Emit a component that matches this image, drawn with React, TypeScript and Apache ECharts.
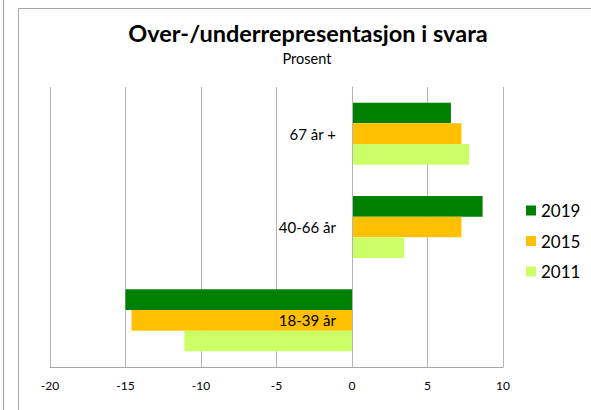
import React, { useEffect, useRef } from "react";
import * as echarts from "echarts";

const categories = ["18-39 år", "40-66 år", "67 år +"];
const seriesNames = ["2019", "2015", "2011"];
const values2019 = [-15.0, 8.65, 6.55];
const values2015 = [-14.6, 7.25, 7.25];
const values2011 = [-11.1, 3.45, 7.75];
const colors = ["#008000", "#FFC000", "#CCFF66"];
const xTicks = { min: -20, max: 10, interval: 5 };

const FONT = "Lato, 'Open Sans', sans-serif";

const GRID_LEFT = 50;
const GRID_RIGHT_X = 503;

export default function App() {
  const ref = useRef<HTMLDivElement>(null);
  useEffect(() => {
    document.body.style.margin = "0";
    const chart = echarts.init(ref.current!, null, { renderer: "svg" });
    const allValues = [values2019, values2015, values2011];
    // place the category axis where the value axis crosses zero
    const zeroX = GRID_LEFT + ((0 - xTicks.min) / (xTicks.max - xTicks.min)) * (GRID_RIGHT_X - GRID_LEFT);
    chart.setOption({
      animation: false,
      backgroundColor: "#ffffff",
      title: [
        {
          text: "Over-/underrepresentasjon i svara",
          left: 308,
          top: 21,
          padding: 0,
          textAlign: "center",
          textStyle: { fontFamily: FONT, fontSize: 23.5, lineHeight: 24, fontWeight: "bold", color: "#000" },
        },
        {
          text: "Prosent",
          left: 307,
          top: 51,
          padding: 0,
          textAlign: "center",
          textStyle: { fontFamily: FONT, fontSize: 14.5, lineHeight: 15, fontWeight: "normal", color: "#000" },
        },
      ],
      graphic: [
        { type: "rect", shape: { x: 18.5, y: 8.5, width: 700, height: 500 }, style: { fill: "none", stroke: "#a6a6a6", lineWidth: 1 }, silent: true },
        { type: "line", shape: { x1: 3.5, y1: 0, x2: 3.5, y2: 410 }, style: { stroke: "#a0a0a0", lineWidth: 1 }, silent: true },
      ],
      legend: {
        orient: "vertical",
        left: 526,
        top: 202,
        padding: 0,
        itemWidth: 10,
        itemHeight: 10,
        itemGap: 13.5,
        icon: "rect",
        data: seriesNames,
        textStyle: { fontFamily: FONT, fontSize: 17, color: "#000", lineHeight: 17 },
      },
      grid: { left: GRID_LEFT, right: 591 - GRID_RIGHT_X, top: 87, bottom: 43, containLabel: false, outerBoundsMode: "none" },
      xAxis: {
        type: "value",
        min: xTicks.min,
        max: xTicks.max,
        interval: xTicks.interval,
        axisLine: { show: true, lineStyle: { color: "#a6a6a6" } },
        axisTick: { show: false },
        axisLabel: { fontFamily: FONT, fontSize: 12, color: "#000", margin: 12 },
        splitLine: { show: true, lineStyle: { color: "#b3b3b3", width: 1 } },
      },
      yAxis: {
        type: "category",
        data: categories,
        position: "left",
        offset: -(zeroX - GRID_LEFT),
        z: 10,
        axisLine: { show: true, onZero: false, lineStyle: { color: "#b3b3b3" } },
        axisTick: { show: false },
        axisLabel: { fontFamily: FONT, fontSize: 15, color: "#000", margin: 16 },
        splitLine: { show: false },
      },
      series: seriesNames.map((name, i) => ({
        name,
        type: "bar",
        data: allValues[i],
        barGap: "0%",
        barCategoryGap: "33.5%",
        itemStyle: { color: colors[i] },
        z: 1,
      })),
    });
    return () => chart.dispose();
  }, []);
  return <div ref={ref} style={{ position: "absolute", left: 0, top: 0, width: 591, height: 410 }} />;
}
